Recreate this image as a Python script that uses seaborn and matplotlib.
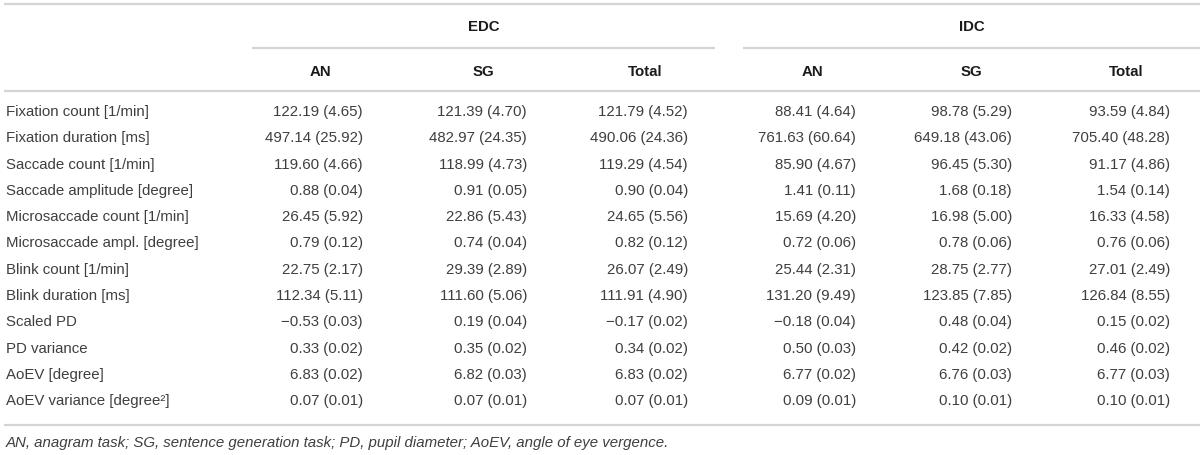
import pandas as pd
import matplotlib
matplotlib.use("Agg")
import matplotlib.pyplot as plt
import seaborn as sns

# Table data (mean and SD per condition)
measures = [
    "Fixation count [1/min]",
    "Fixation duration [ms]",
    "Saccade count [1/min]",
    "Saccade amplitude [degree]",
    "Microsaccade count [1/min]",
    "Microsaccade ampl. [degree]",
    "Blink count [1/min]",
    "Blink duration [ms]",
    "Scaled PD",
    "PD variance",
    "AoEV [degree]",
    "AoEV variance [degree\u00b2]",
]
groups = ["EDC", "IDC"]
tasks = ["AN", "SG", "Total"]

edc_an_mean = [122.19, 497.14, 119.60, 0.88, 26.45, 0.79, 22.75, 112.34, -0.53, 0.33, 6.83, 0.07]
edc_an_sd = [4.65, 25.92, 4.66, 0.04, 5.92, 0.12, 2.17, 5.11, 0.03, 0.02, 0.02, 0.01]
edc_sg_mean = [121.39, 482.97, 118.99, 0.91, 22.86, 0.74, 29.39, 111.60, 0.19, 0.35, 6.82, 0.07]
edc_sg_sd = [4.70, 24.35, 4.73, 0.05, 5.43, 0.04, 2.89, 5.06, 0.04, 0.02, 0.03, 0.01]
edc_tot_mean = [121.79, 490.06, 119.29, 0.90, 24.65, 0.82, 26.07, 111.91, -0.17, 0.34, 6.83, 0.07]
edc_tot_sd = [4.52, 24.36, 4.54, 0.04, 5.56, 0.12, 2.49, 4.90, 0.02, 0.02, 0.02, 0.01]
idc_an_mean = [88.41, 761.63, 85.90, 1.41, 15.69, 0.72, 25.44, 131.20, -0.18, 0.50, 6.77, 0.09]
idc_an_sd = [4.64, 60.64, 4.67, 0.11, 4.20, 0.06, 2.31, 9.49, 0.04, 0.03, 0.02, 0.01]
idc_sg_mean = [98.78, 649.18, 96.45, 1.68, 16.98, 0.78, 28.75, 123.85, 0.48, 0.42, 6.76, 0.10]
idc_sg_sd = [5.29, 43.06, 5.30, 0.18, 5.00, 0.06, 2.77, 7.85, 0.04, 0.02, 0.03, 0.01]
idc_tot_mean = [93.59, 705.40, 91.17, 1.54, 16.33, 0.76, 27.01, 126.84, 0.15, 0.46, 6.77, 0.10]
idc_tot_sd = [4.84, 48.28, 4.86, 0.14, 4.58, 0.06, 2.49, 8.55, 0.02, 0.02, 0.03, 0.01]

footnote = ("AN, anagram task; SG, sentence generation task; PD, pupil diameter; "
            "AoEV, angle of eye vergence.")


def fmt(m, s):
    return f"{m:.2f} ({s:.2f})".replace("-", "\u2212")


# Build the table
cols = [
    (edc_an_mean, edc_an_sd), (edc_sg_mean, edc_sg_sd), (edc_tot_mean, edc_tot_sd),
    (idc_an_mean, idc_an_sd), (idc_sg_mean, idc_sg_sd), (idc_tot_mean, idc_tot_sd),
]
col_names = [f"{g} {t}" for g in groups for t in tasks]
df = pd.DataFrame({name: [fmt(m, s) for m, s in zip(*c)] for name, c in zip(col_names, cols)},
                  index=measures)

sns.set_theme(style="white")
plt.rcParams["font.family"] = ["Liberation Sans", "DejaVu Sans"]

fig = plt.figure(figsize=(12, 4.56), dpi=100)
ax = fig.add_axes([0, 0, 1, 1])
ax.set_xlim(0, 1200)
ax.set_ylim(456, 0)
ax.axis("off")

fs = 10.8
txt_col = "#3f3f3f"
head_col = "#1a1a1a"
rule_col = "#d4d4d4"

# Layout (pixels)
group_span = [(252, 715), (743, 1200)]
head_x = [320, 483, 645, 812, 971, 1126]
right_x = [363, 527, 688, 856, 1012, 1170]
row_y0, row_dy = 112, 26.3

# Rules
ax.hlines([5, 92, 426], 4, 1200, color=rule_col, lw=1.6)
for x0, x1 in group_span:
    ax.hlines(49, x0, x1, color=rule_col, lw=1.6)

# Headers
for g, (x0, x1) in zip(groups, group_span):
    ax.text((x0 + x1) / 2, 27, g, ha="center", va="center", fontsize=fs,
            fontweight="bold", color=head_col)
for i, name in enumerate(col_names):
    ax.text(head_x[i], 72, name.split()[1], ha="center", va="center", fontsize=fs,
            fontweight="bold", color=head_col)

# Body
for r, label in enumerate(df.index):
    y = row_y0 + r * row_dy
    ax.text(6, y, label, ha="left", va="center", fontsize=fs, color=txt_col)
    for c, name in enumerate(df.columns):
        ax.text(right_x[c], y, df.loc[label, name], ha="right", va="center",
                fontsize=fs, color=txt_col)

ax.text(6, 443, footnote, ha="left", va="center", fontsize=fs, style="italic",
        color=txt_col)

fig.savefig("out.png", dpi=100)
plt.close(fig)
